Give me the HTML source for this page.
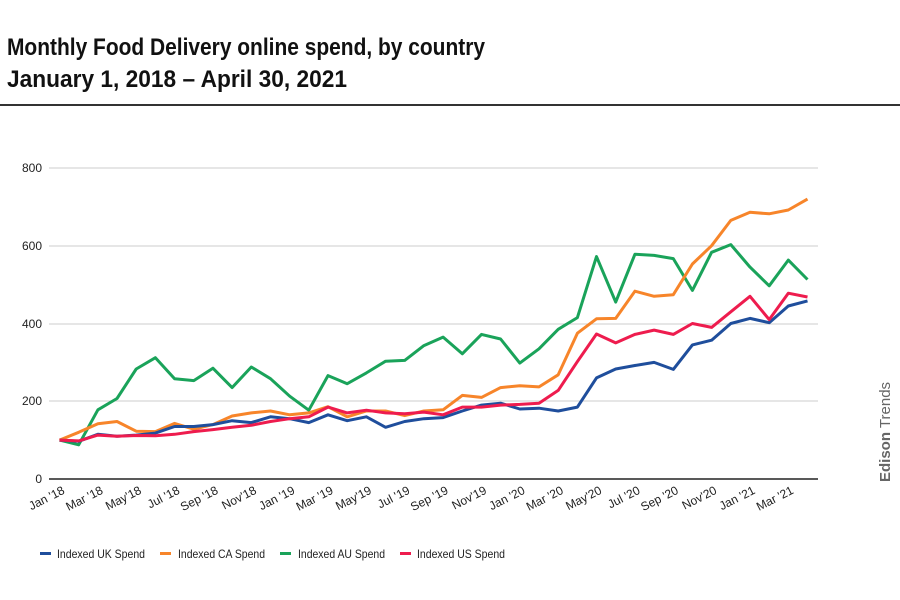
<!DOCTYPE html>
<html><head><meta charset="utf-8"><style>
body{margin:0;background:#fff;width:900px;height:600px;overflow:hidden}
svg{display:block}
</style></head><body>
<svg width="900" height="600" xmlns="http://www.w3.org/2000/svg" font-family="Liberation Sans, sans-serif">
<rect width="900" height="600" fill="#fff"/>
<g font-weight="bold" font-size="24" fill="#111">
<text x="7" y="55" textLength="478" lengthAdjust="spacingAndGlyphs">Monthly Food Delivery online spend, by country</text>
<text x="7" y="87" textLength="340" lengthAdjust="spacingAndGlyphs">January 1, 2018 – April 30, 2021</text>
</g>
<rect x="0" y="104" width="900" height="2" fill="#333"/>
<g stroke="#ccc" stroke-width="1">
<line x1="49" x2="818" y1="168" y2="168"/><line x1="49" x2="818" y1="246" y2="246"/>
<line x1="49" x2="818" y1="324" y2="324"/><line x1="49" x2="818" y1="401" y2="401"/>
</g>
<line x1="49" x2="818" y1="479" y2="479" stroke="#222" stroke-width="1.5"/>
<g font-size="12" fill="#222" text-anchor="end">
<text x="42" y="172">800</text><text x="42" y="250">600</text><text x="42" y="328">400</text><text x="42" y="405">200</text><text x="42" y="483">0</text>
</g>
<g id="xl" font-size="12" fill="#222" text-anchor="end"></g>
<g id="lines" fill="none" stroke-width="3" stroke-linejoin="round"></g>
<text transform="translate(890,482) rotate(-90)" font-size="15" fill="#666"><tspan font-weight="bold">Edison</tspan> Trends</text>
<g font-size="12" fill="#222">
<rect x="40" y="552" width="11" height="3" fill="#1f4e9c"/><text x="57" y="558" textLength="88" lengthAdjust="spacingAndGlyphs">Indexed UK Spend</text>
<rect x="160" y="552" width="11" height="3" fill="#f7852a"/><text x="178" y="558" textLength="87" lengthAdjust="spacingAndGlyphs">Indexed CA Spend</text>
<rect x="280" y="552" width="11" height="3" fill="#1aa35a"/><text x="298" y="558" textLength="87" lengthAdjust="spacingAndGlyphs">Indexed AU Spend</text>
<rect x="400" y="552" width="11" height="3" fill="#ee1c4e"/><text x="417" y="558" textLength="88" lengthAdjust="spacingAndGlyphs">Indexed US Spend</text>
</g>
</svg>
<script>
var data={
"#1aa35a":[100,88,178,207,283,312,258,253,285,235,288,258,213,177,266,245,273,303,305,343,365,322,372,360,298,335,385,415,572,455,578,575,567,485,583,603,545,497,563,513],
"#f7852a":[100,120,142,148,123,122,143,128,140,162,170,175,165,170,186,160,175,175,163,175,178,215,210,235,240,237,268,375,412,413,483,470,474,553,600,665,686,682,692,720],
"#1f4e9c":[100,97,115,110,113,118,135,135,140,150,145,160,155,145,165,150,160,133,148,155,158,175,190,195,180,182,175,185,260,283,292,300,282,345,357,400,413,402,445,458],
"#ee1c4e":[100,98,113,110,112,111,115,122,127,133,138,148,155,160,185,170,177,170,168,172,165,185,185,190,192,195,228,302,373,350,372,383,372,400,390,430,470,410,478,468]
};
var ns="http://www.w3.org/2000/svg",g=document.getElementById("lines");
function X(i){return 59.5+i*19.18}function Y(v){return 479-v*0.3888}
for(var c in data){var p=document.createElementNS(ns,"polyline");
p.setAttribute("points",data[c].map(function(v,i){return X(i).toFixed(1)+","+Y(v).toFixed(1)}).join(" "));
p.setAttribute("stroke",c);g.appendChild(p);}
var labs=["Jan '18","Mar '18","May'18","Jul '18","Sep '18","Nov'18","Jan '19","Mar '19","May'19","Jul '19","Sep '19","Nov'19","Jan '20","Mar '20","May'20","Jul '20","Sep '20","Nov'20","Jan '21","Mar '21"];
var xl=document.getElementById("xl");
labs.forEach(function(l,k){var t=document.createElementNS(ns,"text");var x=X(2*k)+6,y=493;
t.setAttribute("transform","translate("+x+","+y+") rotate(-27)");t.textContent=l;xl.appendChild(t);});
</script>
</body></html>
